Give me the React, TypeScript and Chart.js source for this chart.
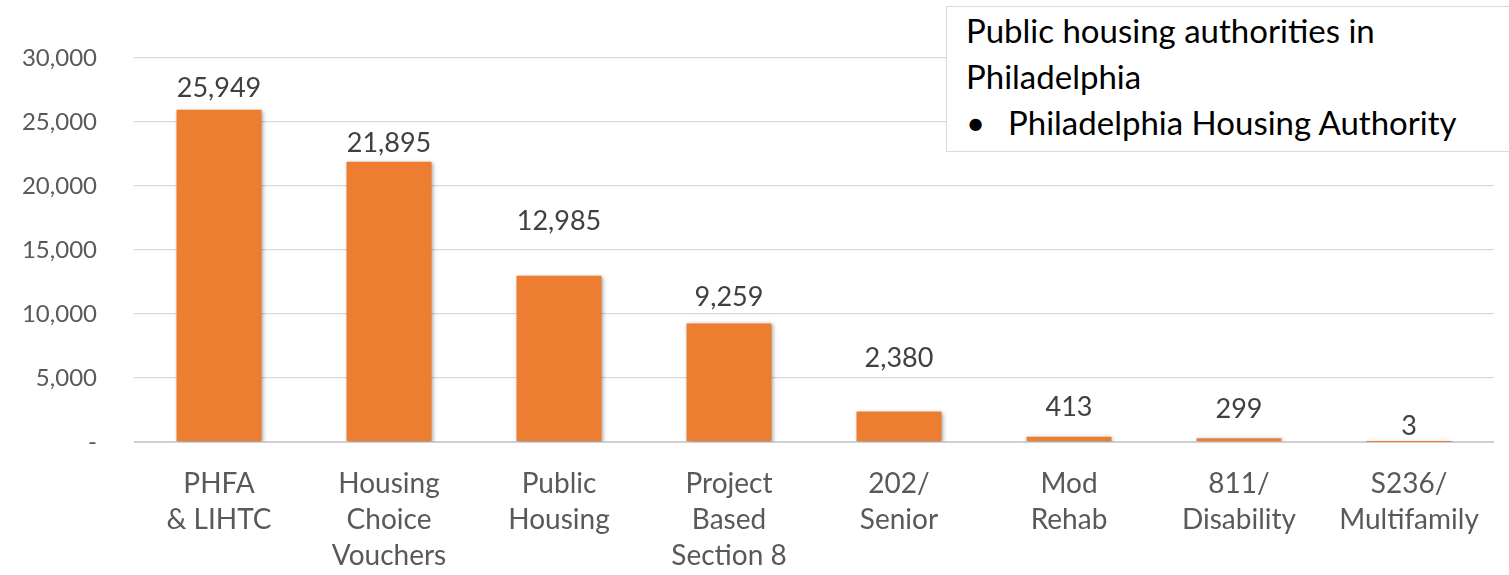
import React, { useEffect, useRef } from "react";
import { Chart, registerables } from "chart.js";

Chart.register(...registerables);

const categories: string[][] = [
  ["PHFA", "& LIHTC"],
  ["Housing", "Choice", "Vouchers"],
  ["Public", "Housing"],
  ["Project", "Based", "Section 8"],
  ["202/", "Senior"],
  ["Mod", "Rehab"],
  ["811/", "Disability"],
  ["S236/", "Multifamily"],
];
const units: number[] = [25949, 21895, 12985, 9259, 2380, 413, 299, 3];
const yTicks: number[] = [0, 5000, 10000, 15000, 20000, 25000, 30000];
const boxTitle = ["Public housing authorities in", "Philadelphia"];
const boxBullets = ["Philadelphia Housing Authority"];

// label lift above bar top in px (manually placed labels in the original)
const labelLift = [22, 18, 54, 26, 53, 29, 29, 16];

const FONT = "Lato, 'Open Sans', sans-serif";

const barShadow = {
  id: "barShadow",
  beforeDatasetsDraw(chart: any) {
    const { ctx } = chart;
    ctx.save();
    ctx.shadowColor = "rgba(0,0,0,0.35)";
    ctx.shadowBlur = 4;
    ctx.shadowOffsetX = 1;
    ctx.shadowOffsetY = 1;
  },
  afterDatasetsDraw(chart: any) {
    chart.ctx.restore();
  },
};

const valueLabels = {
  id: "valueLabels",
  afterDatasetsDraw(chart: any) {
    const { ctx } = chart;
    const meta = chart.getDatasetMeta(0);
    ctx.save();
    ctx.font = `27px ${FONT}`;
    ctx.fillStyle = "#404040";
    ctx.textAlign = "center";
    ctx.textBaseline = "middle";
    meta.data.forEach((bar: any, i: number) => {
      const v = units[i];
      ctx.fillText(v.toLocaleString("en-US"), bar.x, bar.y - labelLift[i]);
    });
    ctx.restore();
  },
};

export default function App() {
  const ref = useRef<HTMLCanvasElement | null>(null);
  useEffect(() => {
    if (!ref.current) return;
    const chart = new Chart(ref.current, {
      type: "bar",
      data: {
        labels: categories,
        datasets: [
          {
            data: units,
            backgroundColor: "#ED7D31",
            borderWidth: 0,
            barPercentage: 0.5,
            categoryPercentage: 1,
          },
        ],
      },
      options: {
        animation: false,
        responsive: true,
        maintainAspectRatio: false,
        layout: { padding: { top: 58, right: 15, left: 0, bottom: 0 } },
        plugins: { legend: { display: false }, tooltip: { enabled: false } },
        scales: {
          x: {
            grid: { display: false },
            border: { display: false },
            ticks: {
              color: "#595959",
              font: { family: FONT, size: 28, lineHeight: "36px" as any },
              padding: 16,
              maxRotation: 0,
              autoSkip: false,
            },
            afterFit: (s: any) => {
              s.height = 133;
            },
          },
          y: {
            min: 0,
            max: 30000,
            afterBuildTicks: (s: any) => {
              s.ticks = yTicks.map((v) => ({ value: v }));
            },
            grid: {
              drawTicks: false,
              color: (c: any) => (c.index === 0 ? "#d0d0d0" : "#d9d9d9"),
              lineWidth: (c: any) => (c.index === 0 ? 2 : 1.3),
            },
            border: { display: false },
            ticks: {
              color: "#595959",
              font: { family: FONT, size: 24 },
              padding: 37,
              callback: (v: any) => (Number(v) === 0 ? "-" : Number(v).toLocaleString("en-US")),
            },
            afterFit: (s: any) => {
              s.width = 134;
            },
          },
        },
      },
      plugins: [barShadow, valueLabels],
    });
    return () => chart.destroy();
  }, []);

  return (
    <div style={{ position: "absolute", left: 0, top: 0, width: 1509, height: 575, background: "#fff" }}>
      <canvas ref={ref} />
      <div
        style={{
          position: "absolute",
          left: 946,
          top: 6,
          width: 580,
          height: 146,
          boxSizing: "border-box",
          background: "#fff",
          border: "1.5px solid #d6dce5",
          fontFamily: FONT,
          fontSize: 33,
          lineHeight: "46px",
          color: "#000",
          padding: "0 0 0 19px",
        }}
      >
        {boxTitle.map((t, i) => (
          <div key={i}>{t}</div>
        ))}
        {boxBullets.map((t, i) => (
          <div key={"b" + i} style={{ display: "flex" }}>
            <span style={{ width: 42 }}>•</span>
            <span>{t}</span>
          </div>
        ))}
      </div>
    </div>
  );
}
